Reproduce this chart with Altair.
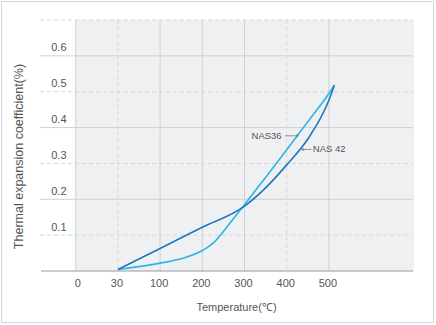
import altair as alt
import pandas as pd

# ---- data ----
nas36_temp = [30, 100, 150, 200, 225, 250, 275, 300, 350, 400, 450, 500, 513]
nas36_val = [0.004, 0.022, 0.034, 0.057, 0.077, 0.110, 0.148, 0.185, 0.261, 0.338, 0.416, 0.495, 0.518]
nas42_temp = [30, 100, 200, 300, 350, 400, 450, 500, 513]
nas42_val = [0.004, 0.063, 0.122, 0.181, 0.232, 0.296, 0.368, 0.476, 0.518]

x_ticks = [0, 30, 100, 200, 300, 400, 500]
x_grid_dashed = [False, True, False, False, False, True, False]
y_ticks = [0.1, 0.2, 0.3, 0.4, 0.5, 0.6]
y_grid = [0.1, 0.2, 0.3, 0.4, 0.5, 0.6, 0.7]
y_grid_dashed = [True, False, True, False, True, False, True]

ann_labels = ["NAS36", "NAS 42"]
ann_text_temp = [388, 462]
ann_val = [0.377, 0.339]
ann_arrow_from = [396, 459]
ann_arrow_to = [426, 437]

LIGHT = "#2cb5e8"
DARK = "#1a78c2"
FONT = "Liberation Sans"
TXT = "#555555"

W, H = 373, 251
x_domain = [0, 30, 100, 200, 300, 400, 500, 600]
x_range = [35.7 + 42.2 * i for i in range(len(x_domain))]

lines_df = pd.DataFrame(
    {"temp": nas36_temp + nas42_temp,
     "val": nas36_val + nas42_val,
     "series": ["NAS36"] * len(nas36_temp) + ["NAS 42"] * len(nas42_temp)}
)
xg_df = pd.DataFrame({"temp": x_ticks, "dashed": x_grid_dashed})
yg_df = pd.DataFrame({"val": y_grid, "dashed": y_grid_dashed})
ann_df = pd.DataFrame({"label": ann_labels, "tx": ann_text_temp, "val": ann_val,
                       "a": ann_arrow_from, "b": ann_arrow_to})

X = alt.X(
    "temp:Q",
    scale=alt.Scale(domain=x_domain, range=x_range),
    axis=alt.Axis(values=x_ticks, grid=False, domain=False, ticks=False,
                  labelPadding=6, labelOffset=-1.5, labelFontSize=11,
                  labelColor=TXT, labelFont=FONT,
                  title="Temperature(\u2103)", titleFont=FONT, titleFontSize=11,
                  titleFontWeight="normal", titleColor=TXT,
                  titleX=196, titleY=36, titleBaseline="middle", titleAlign="center"),
)
Y = alt.Y(
    "val:Q",
    scale=alt.Scale(domain=[0, 0.7], nice=False, zero=True),
    axis=alt.Axis(values=y_ticks, format=".1f", grid=False, domain=False, ticks=False,
                  offset=-30, labelPadding=4, labelOffset=-8, labelFontSize=11,
                  labelColor=TXT, labelFont=FONT,
                  title="Thermal expansion coefficient(%)", titleFont=FONT,
                  titleFontSize=12.5, titleFontWeight="normal", titleColor=TXT,
                  titleAngle=270, titleX=-52, titleY=136,
                  titleAlign="center", titleBaseline="middle"),
)

border = alt.Chart(pd.DataFrame({"temp": [0]})).mark_rect(
    fillOpacity=0, stroke="#d4d4d4", strokeWidth=1
).encode(x=alt.value(-38.5), x2=alt.value(393.5), y=alt.value(-18.5), y2=alt.value(302.5))

bg = alt.Chart(pd.DataFrame({"temp": [0]})).mark_rect(color="#eff0f2").encode(
    x=X, x2=alt.value(374), y=alt.value(0), y2=alt.value(H)
)

xg_solid = alt.Chart(xg_df).transform_filter("!datum.dashed").mark_rule(
    color="#cfd0d3", strokeWidth=1).encode(x=X, y=alt.value(0), y2=alt.value(H))
xg_dash = alt.Chart(xg_df).transform_filter("datum.dashed").mark_rule(
    color="#d6d7d9", strokeWidth=1, strokeDash=[4, 3]).encode(x=X, y=alt.value(0), y2=alt.value(H))
yg_solid = alt.Chart(yg_df).transform_filter("!datum.dashed").mark_rule(
    color="#cfd0d3", strokeWidth=1).encode(y=Y, x=alt.value(0), x2=alt.value(W))
yg_dash = alt.Chart(yg_df).transform_filter("datum.dashed").mark_rule(
    color="#d6d7d9", strokeWidth=1, strokeDash=[4, 3]).encode(y=Y, x=alt.value(0), x2=alt.value(W))
base_line = alt.Chart(pd.DataFrame({"val": [0]})).mark_rule(
    color="#9a9a9a", strokeWidth=1).encode(y=Y, x=alt.value(1), x2=alt.value(W))

curves = alt.Chart(lines_df).mark_line(interpolate="monotone", strokeWidth=1.6).encode(
    x=X, y=Y,
    color=alt.Color("series:N", scale=alt.Scale(domain=["NAS36", "NAS 42"], range=[LIGHT, DARK]),
                    legend=None),
    order="temp:Q",
)

ann = alt.Chart(ann_df)
t36 = ann.transform_filter("datum.label == 'NAS36'").transform_calculate(temp="datum.tx").mark_text(
    align="right", baseline="middle", font=FONT, fontSize=9.5, color=TXT).encode(x=X, y=Y, text="label:N")
t42 = ann.transform_filter("datum.label == 'NAS 42'").transform_calculate(temp="datum.tx").mark_text(
    align="left", baseline="middle", font=FONT, fontSize=9.5, color=TXT).encode(x=X, y=Y, text="label:N")
arrows = ann.transform_calculate(temp="datum.a").mark_rule(color="#777777", strokeWidth=0.8).encode(
    x=X, x2="b:Q", y=Y)
heads = ann.transform_calculate(temp="datum.b").mark_point(filled=True, size=9, color="#777777", opacity=1).encode(
    x=X, y=Y,
    shape=alt.Shape("label:N", scale=alt.Scale(domain=["NAS36", "NAS 42"],
                                               range=["triangle-right", "triangle-left"]), legend=None))

chart = alt.layer(
    border, bg, yg_solid, yg_dash, xg_solid, xg_dash, base_line, curves, t36, t42, arrows, heads
).properties(
    width=W, height=H,
    autosize=alt.AutoSizeParams(type="none"),
    padding={"left": 40, "top": 20, "right": 23, "bottom": 54},
    background="white",
).configure_view(stroke=None)

chart.save("out.html", embed_options={"renderer": "svg", "actions": False})
